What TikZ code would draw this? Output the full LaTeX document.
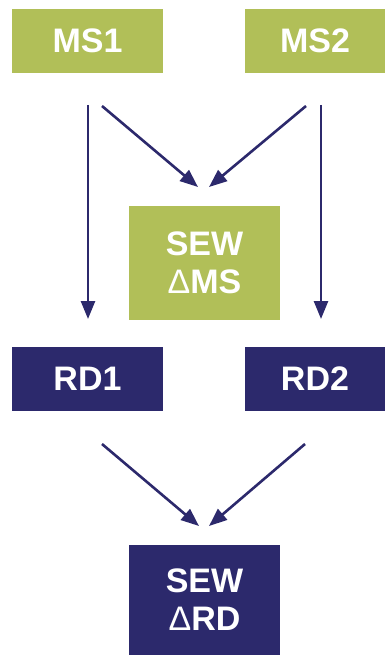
\documentclass[tikz,border=0pt]{standalone}
\usepackage{fontspec}
\setmainfont{Liberation Sans}
\usetikzlibrary{arrows.meta}
\definecolor{leaf}{RGB}{177,191,88}
\definecolor{navy}{RGB}{44,41,108}
\tikzset{
  box/.style={rectangle, inner sep=0pt, text=white,
    font=\fontsize{34}{38}\selectfont\bfseries, align=center},
  greenbox/.style={box, fill=leaf},
  navybox/.style={box, fill=navy},
  link/.style={draw=navy, line width=2.6pt,
    -{Triangle[length=18pt, width=14pt]}}
}
\begin{document}
\begin{tikzpicture}[x=1pt, y=-1pt]
  \useasboundingbox (0,0) rectangle (385,655);

  % input blocks
  \node[greenbox, minimum width=151pt, minimum height=64pt] (ms1) at (87.5,41) {MS1};
  \node[greenbox, minimum width=140pt, minimum height=64pt] (ms2) at (315,41) {MS2};
  \node[greenbox, minimum width=151pt, minimum height=114pt] (sewms) at (204.5,263)
    {SEW\\{\mdseries Δ}MS};

  % derived blocks
  \node[navybox, minimum width=151pt, minimum height=64pt] (rd1) at (87.5,379) {RD1};
  \node[navybox, minimum width=140pt, minimum height=64pt] (rd2) at (315,379) {RD2};
  \node[navybox, minimum width=151pt, minimum height=110pt] (sewrd) at (204.5,600)
    {SEW\\{\mdseries Δ}RD};

  % free arrow ends
  \coordinate (a1s) at (88,105);   \coordinate (a1e) at (88,319);
  \coordinate (a2s) at (102,106);  \coordinate (a2e) at (198,187);
  \coordinate (a3s) at (306,106);  \coordinate (a3e) at (209,187);
  \coordinate (a4s) at (321,105);  \coordinate (a4e) at (321,319);
  \coordinate (b1s) at (102,444);  \coordinate (b1e) at (199,526);
  \coordinate (b2s) at (305,444);  \coordinate (b2e) at (209,526);

  \draw[link] (a1s) -- (a1e);
  \draw[link] (a2s) -- (a2e);
  \draw[link] (a3s) -- (a3e);
  \draw[link] (a4s) -- (a4e);
  \draw[link] (b1s) -- (b1e);
  \draw[link] (b2s) -- (b2e);
\end{tikzpicture}
\end{document}
